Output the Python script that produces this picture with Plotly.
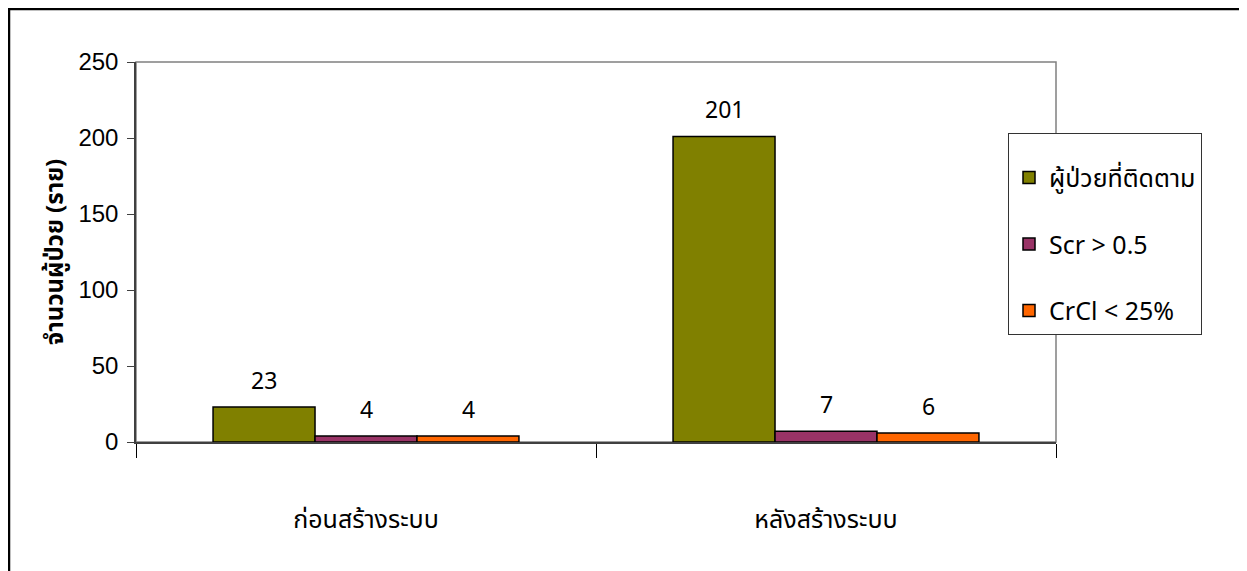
import plotly.graph_objects as go

categories = ["ก่อนสร้างระบบ", "หลังสร้างระบบ"]
series_names = ["ผู้ป่วยที่ติดตาม", "Scr > 0.5", "CrCl < 25%"]
followed = [23, 201]
scr = [4, 7]
crcl = [4, 6]
colors = ["#808000", "#993366", "#FF6600"]
y_title = "จำนวนผู้ป่วย (ราย)"

series_values = [followed, scr, crcl]

thai_font = "Tahoma, 'Noto Sans Thai', 'Noto Sans', sans-serif"
num_font = "Liberation Sans, Arial, sans-serif"

fig = go.Figure()
for i, (name, vals, col) in enumerate(zip(series_names, series_values, colors)):
    fig.add_trace(go.Bar(
        x=categories, y=vals, name=name, legendgroup=f"g{i}",
        marker=dict(color=col, line=dict(color="black", width=1.5)),
    ))

# data labels above bars
bar_w = 102
for i, vals in enumerate(series_values):
    for cat, v in zip(categories, vals):
        fig.add_annotation(x=cat, y=v, text=str(v), showarrow=False,
                           xshift=(i - 1) * bar_w, yshift=25,
                           font=dict(size=23, color="black", family=thai_font))

# page draws figure with an 8px body margin
OFF = 8
W, H = 1247 - OFF, 571 - OFF
L, R, T, B = 136 - OFF, 1056 - OFF, 62 - OFF, 442 - OFF
pw, ph = R - L, B - T

def px(x):
    return (x - OFF - L) / pw

def py(y):
    return (B - (y - OFF)) / ph

shapes = [
    dict(type="rect", xref="paper", yref="paper", x0=0, x1=1, y0=0, y1=1,
         line=dict(color="#808080", width=1.5), layer="below"),
    dict(type="rect", xref="paper", yref="paper", x0=px(9), x1=px(1245), y0=py(620), y1=py(9),
         line=dict(color="black", width=2.5)),
]

fig.update_layout(
    width=W, height=H,
    margin=dict(l=L, r=W - R, t=T, b=H - B, autoexpand=False),
    paper_bgcolor="white", plot_bgcolor="white",
    barmode="group", bargap=0.335, bargroupgap=0,
    showlegend=True,
    legend=dict(x=px(1008), y=py(133), xanchor="left", yanchor="top",
                bordercolor="#333333", borderwidth=1, bgcolor="white",
                font=dict(size=25, family=thai_font, color="black"),
                title=dict(text=" ", font=dict(size=16)),
                tracegroupgap=31, itemwidth=30),
    shapes=shapes,
    xaxis=dict(type="category", showline=True, linecolor="#404040", linewidth=1.5,
               ticks="outside", tickson="boundaries", ticklen=14, tickcolor="black",
               tickfont=dict(size=25, family=thai_font, color="black"),
               ticklabelstandoff=54, showgrid=False, zeroline=False),
    yaxis=dict(range=[0, 250], dtick=50, showline=True, linecolor="#404040", linewidth=1.5,
               ticks="outside", ticklen=7, tickcolor="#404040",
               tickfont=dict(size=24, family=num_font, color="black"),
               ticklabelstandoff=4,
               showgrid=False, zeroline=False,
               title=dict(text=f"<b>{y_title}</b>", standoff=8,
                          font=dict(size=24, family=thai_font, color="black"))),
)

fig.write_html("out.html")
